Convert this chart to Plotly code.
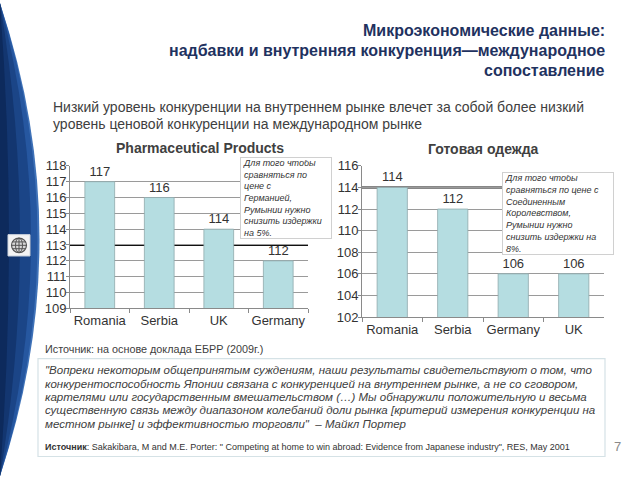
import plotly.graph_objects as go

# ---------------- data ----------------
pharma_countries = ["Romania", "Serbia", "UK", "Germany"]
pharma_values = [117, 116, 114, 112]
pharma_ticks = [109, 110, 111, 112, 113, 114, 115, 116, 117, 118]
pharma_ref = 113

apparel_countries = ["Romania", "Serbia", "Germany", "UK"]
apparel_values = [114, 112, 106, 106]
apparel_ticks = [102, 104, 106, 108, 110, 112, 114, 116]
apparel_ref = 114

title_lines = ["Микроэкономические данные:",
               "надбавки и внутренняя конкуренция—международное",
               "сопоставление"]
subtitle_lines = ["Низкий уровень конкуренции на внутреннем рынке влечет за собой более низкий",
                  "уровень ценовой конкуренции на международном рынке"]
pharma_title = "Pharmaceutical Products"
apparel_title = "Готовая одежда"
pharma_note = ["Для того чтобы", "сравняться по", "цене с", "Германией,",
               "Румынии нужно", "снизить издержки", "на 5%."]
apparel_note = ["Для того чтобы", "сравняться по цене с", "Соединенным",
                "Королевством,", "Румынии нужно", "снизить издержки на", "8%."]
source1 = "Источник: на основе доклада ЕБРР (2009г.)"
quote_lines = ["\"Вопреки некоторым общепринятым суждениям, наши результаты свидетельствуют о том, что",
               "конкурентоспособность Японии связана с конкуренцией на внутреннем рынке, а не со сговором,",
               "картелями или государственным вмешательством (…) Мы обнаружили положительную и весьма",
               "существенную связь между диапазоном колебаний доли рынка [критерий измерения конкуренции на",
               "местном рынке] и эффективностью торговли\"  – Майкл Портер"]
source2 = ("<b>Источник</b>: Sakakibara, M and M.E. Porter: \" Competing at home to win abroad: "
           "Evidence from Japanese industry\", RES, May 2001")
page_no = "7"

# ---------------- helpers ----------------
W, H = 640, 480
FONT = "Liberation Sans, Arial, sans-serif"


def px(x):
    return x / W


def py(y):
    return 1 - y / H


BAR_FILL = "#b5dde1"
BAR_LINE = "#8fa9ac"
GRID = "#9a9a9a"
AXIS = "#8a8a8a"

fig = go.Figure()

fig.add_trace(go.Bar(
    x=pharma_countries, y=pharma_values, xaxis="x", yaxis="y",
    width=0.5, marker=dict(color=BAR_FILL, line=dict(color=BAR_LINE, width=0.8)),
    text=[str(v) for v in pharma_values], textposition="outside",
    textfont=dict(family=FONT, size=13, color="#333333"),
    cliponaxis=False, showlegend=False, hoverinfo="skip"))

fig.add_trace(go.Bar(
    x=apparel_countries, y=apparel_values, xaxis="x2", yaxis="y2",
    width=0.5, marker=dict(color=BAR_FILL, line=dict(color=BAR_LINE, width=0.8)),
    text=[str(v) for v in apparel_values], textposition="outside",
    textfont=dict(family=FONT, size=13, color="#333333"),
    cliponaxis=False, showlegend=False, hoverinfo="skip"))

axis_common_x = dict(type="category", showline=True, linecolor=AXIS, linewidth=1,
                     ticks="outside", tickson="boundaries", ticklen=4, tickcolor=AXIS,
                     showgrid=False, tickangle=0,
                     tickfont=dict(family=FONT, size=13, color="#333333"),
                     fixedrange=True)
axis_common_y = dict(showline=True, linecolor=AXIS, linewidth=1, ticks="outside",
                     ticklen=3, tickcolor=AXIS, showgrid=True, gridcolor=GRID, gridwidth=1,
                     zeroline=False, tickfont=dict(family=FONT, size=13, color="#333333"),
                     ticklabelstandoff=-3, fixedrange=True)

fig.update_layout(
    width=W, height=H, margin=dict(l=0, r=0, t=0, b=0),
    paper_bgcolor="white", plot_bgcolor="white",
    font=dict(family=FONT),
    bargap=0.5,
    xaxis=dict(domain=[px(70), px(308)], anchor="y", **axis_common_x),
    yaxis=dict(domain=[py(311), py(164)], anchor="x", range=[pharma_ticks[0], pharma_ticks[-1]],
               tickvals=pharma_ticks, **axis_common_y),
    xaxis2=dict(domain=[px(362), px(604)], anchor="y2", **axis_common_x),
    yaxis2=dict(domain=[py(320), py(164)], anchor="x2", range=[apparel_ticks[0], apparel_ticks[-1]],
                tickvals=apparel_ticks, **axis_common_y),
)

shapes = []
# reference lines (below bars)
shapes.append(dict(type="line", xref="x domain", yref="y", x0=0, x1=1, y0=pharma_ref, y1=pharma_ref,
                   line=dict(color="#111111", width=2), layer="below"))
shapes.append(dict(type="line", xref="x2 domain", yref="y2", x0=0, x1=1, y0=apparel_ref, y1=apparel_ref,
                   line=dict(color="#111111", width=2), layer="below"))

# left blue crescent band
for ctrl, col in [(79, "#3f72b8"), (75, "#2657a0"), (62, "#1b4587"), (40, "#133670"), (18, "#0d2a5c")]:
    shapes.append(dict(type="path", xref="paper", yref="paper",
                       path=f"M 0,{py(-4)} Q {px(ctrl)},{py(240)} 0,{py(484)} Z",
                       fillcolor=col, line=dict(width=0), layer="above"))

# logo
shapes.append(dict(type="rect", xref="paper", yref="paper", x0=px(8), x1=px(30), y0=py(257), y1=py(235),
                   fillcolor="#f4f4f4", line=dict(color="#cfd6e0", width=1)))
shapes.append(dict(type="circle", xref="paper", yref="paper", x0=px(11.5), x1=px(26.5), y0=py(253.5), y1=py(238.5),
                   fillcolor="#d8d8d8", line=dict(color="#555555", width=1.2)))
shapes.append(dict(type="circle", xref="paper", yref="paper", x0=px(15.5), x1=px(22.5), y0=py(253.5), y1=py(238.5),
                   line=dict(color="#555555", width=1)))
for yy in (242.5, 246, 249.5):
    shapes.append(dict(type="line", xref="paper", yref="paper", x0=px(12), x1=px(26), y0=py(yy), y1=py(yy),
                       line=dict(color="#555555", width=1)))
shapes.append(dict(type="line", xref="paper", yref="paper", x0=px(19), x1=px(19), y0=py(238.5), y1=py(253.5),
                   line=dict(color="#555555", width=1)))

# quote box
shapes.append(dict(type="rect", xref="paper", yref="paper", x0=px(38), x1=px(605), y0=py(464), y1=py(363),
                   fillcolor="rgba(0,0,0,0)", line=dict(color="#d5e2e6", width=1.2)))

fig.update_layout(shapes=shapes)

ann = []
# title
for i, t in enumerate(title_lines):
    ann.append(dict(text=f"<b>{t}</b>", xref="paper", yref="paper", x=px(607), y=py(24 + i * 21),
                    xanchor="right", yanchor="middle", showarrow=False,
                    font=dict(family=FONT, size=16, color="#1f3260")))
for i, t in enumerate(subtitle_lines):
    ann.append(dict(text=t, xref="paper", yref="paper", x=px(51), y=py(103 + i * 18),
                    xanchor="left", yanchor="middle", showarrow=False,
                    font=dict(family=FONT, size=14, color="#404040")))
ann.append(dict(text=f"<b>{pharma_title}</b>", xref="paper", yref="paper", x=px(200), y=py(146),
                xanchor="center", yanchor="middle", showarrow=False,
                font=dict(family=FONT, size=14, color="#404040")))
ann.append(dict(text=f"<b>{apparel_title}</b>", xref="paper", yref="paper", x=px(483), y=py(147),
                xanchor="center", yanchor="middle", showarrow=False,
                font=dict(family=FONT, size=14, color="#404040")))
ann.append(dict(text="<i>" + "<br>".join(pharma_note) + "</i>", xref="paper", yref="paper",
                x=px(240), y=py(155), xanchor="left", yanchor="top", showarrow=False, align="left",
                width=86, height=76, valign="middle", bgcolor="white", bordercolor="#d0d0d0",
                borderwidth=1, borderpad=2, font=dict(family=FONT, size=9, color="#333333")))
ann.append(dict(text="<i>" + "<br>".join(apparel_note) + "</i>", xref="paper", yref="paper",
                x=px(502), y=py(170), xanchor="left", yanchor="top", showarrow=False, align="left",
                width=106, height=77, valign="middle", bgcolor="white", bordercolor="#d0d0d0",
                borderwidth=1, borderpad=2, font=dict(family=FONT, size=9, color="#333333")))
ann.append(dict(text=source1, xref="paper", yref="paper", x=px(43), y=py(353),
                xanchor="left", yanchor="middle", showarrow=False,
                font=dict(family=FONT, size=10.8, color="#404040")))
for i, t in enumerate(quote_lines):
    ann.append(dict(text=f"<i>{t}</i>", xref="paper", yref="paper", x=px(43), y=py(375 + i * 13.8),
                    xanchor="left", yanchor="middle", showarrow=False,
                    font=dict(family=FONT, size=11.5, color="#404040")))
ann.append(dict(text=source2, xref="paper", yref="paper", x=px(43), y=py(454),
                xanchor="left", yanchor="middle", showarrow=False,
                font=dict(family=FONT, size=9, color="#333333")))
ann.append(dict(text=page_no, xref="paper", yref="paper", x=px(617), y=py(454),
                xanchor="center", yanchor="middle", showarrow=False,
                font=dict(family=FONT, size=13, color="#8a8a8a")))
fig.update_layout(annotations=ann)

fig.write_html("out.html")
